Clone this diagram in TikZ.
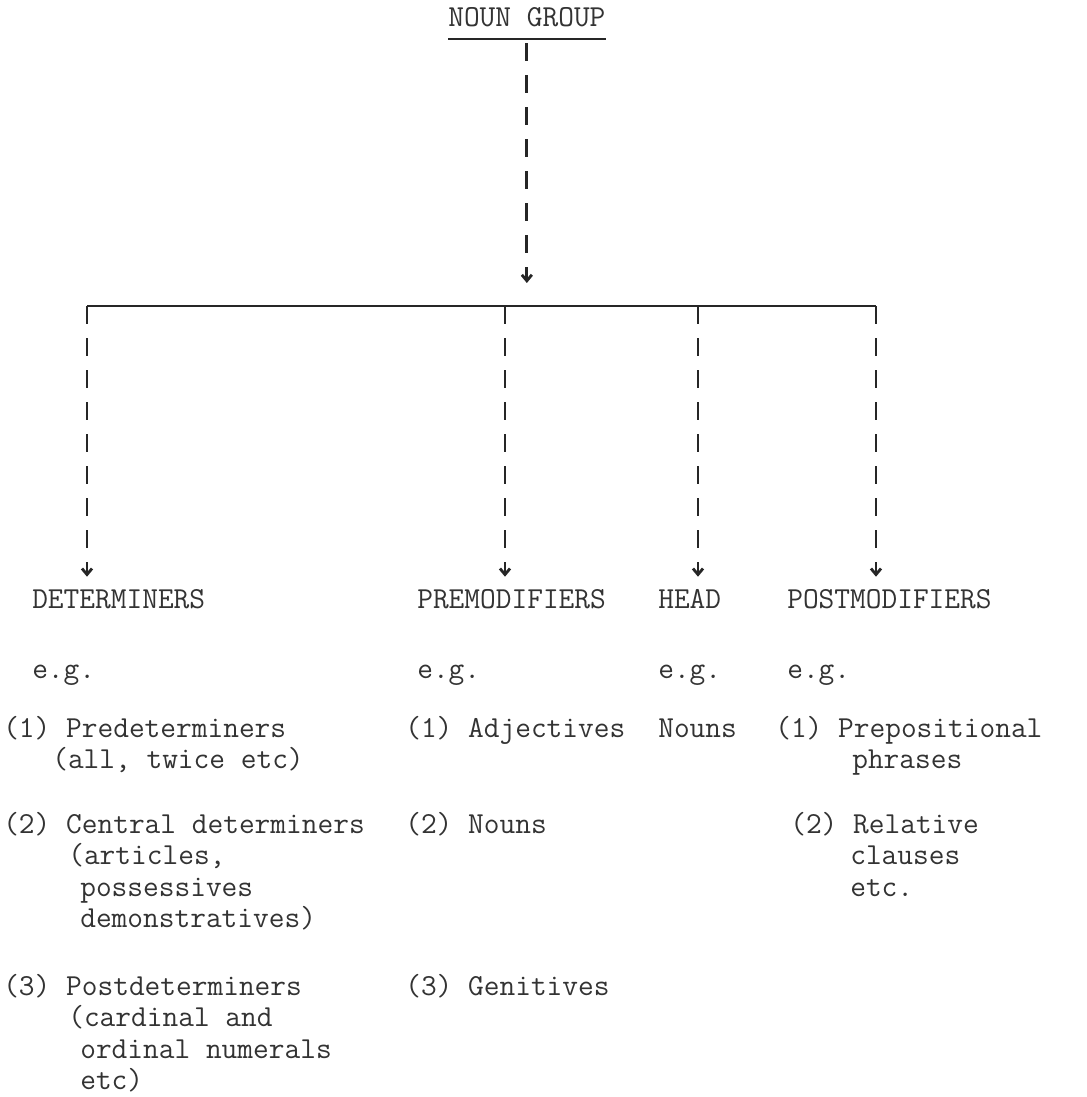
\documentclass[tikz,border=0pt]{standalone}
\usepackage{tikz}
\usetikzlibrary{positioning,arrows.meta}
\newcommand{\typefont}{\fontsize{21.7pt}{22.4pt}\selectfont\ttfamily}
\newcommand{\topstrut}{\rule{0pt}{0.8cm}}
\tikzset{
	heading/.style={inner sep=0pt, font=\typefont, text=black!80, 
		text depth=0.3cm, anchor=base west},
	category/.style={inner sep=0pt, font=\typefont, text=black!80, 
		text height=0.775cm, anchor=base west},
	example/.style={inner sep=0pt, font=\typefont, text=black!80},
	itemlist/.style={inner sep=0pt, font=\typefont, text=black!80, 
		align=left, anchor=north west},
	connector/.style={draw=black!85, line width=2pt, 
		dash pattern=on 0.45cm off 0.35cm, 
		-{Straight Barb[length=0.15cm,width=0.25cm]}},
	bar/.style={draw=black!85, line width=1.3pt}
}

\begin{document}
\begin{tikzpicture}[x=0.025cm, y=-0.025cm]
			\useasboundingbox (0,0) rectangle (1086,1097);
			\node[heading] (ng) at (448,27) {NOUN GROUP};
			\draw[bar] (ng.south west) -- (ng.south east);
			
			% the bar that splits the group
			\coordinate (barL) at (87,306);
			\coordinate (barR) at (876,306);
			\coordinate (bPre) at (505,306);
			\coordinate (bHead) at (698,306);
			\draw[bar] (barL) -- (barR);
			\draw[connector, shorten <=0.1cm, shorten >=0.575cm] (ng.south) -- (ng.south |- barL);
			
			\node[category] (det) at (32,608) {DETERMINERS};
			\node[category] (pre) at (417,608) {PREMODIFIERS};
			\node[category] (head) at (658,608) {HEAD};
			\node[category] (post) at (787,608) {POSTMODIFIERS};
			
			\draw[connector] (barL) -- (barL |- det.north);
			\draw[connector] (bPre) -- (bPre |- pre.north);
			\draw[connector] (bHead) -- (bHead |- head.north);
			\draw[connector] (barR) -- (barR |- post.north);
			
			\node[example, below=1.75cm of det.base west, anchor=base west] (egdet) {e.g.};
			\node[example, below=1.75cm of pre.base west, anchor=base west] (egpre) {e.g.};
			\node[example, below=1.75cm of head.base west, anchor=base west] (eghead) {e.g.};
			\node[example, below=1.75cm of post.base west, anchor=base west] (egpost) {e.g.};
			
			% lists (top of each node is one line above the first baseline)
			\node[itemlist] (det1) at (3,705) {\topstrut(1) Predeterminers\\\hspace*{1.225cm}(all, twice etc)};
			\node[itemlist] (det2) at (3,801) {\topstrut(2) Central determiners\\\hspace*{1.625cm}(articles,\\\hspace*{1.925cm}possessives\\\hspace*{1.925cm}demonstratives)};
			\node[itemlist] (det3) at (3,963) {\topstrut(3) Postdeterminers\\\hspace*{1.625cm}(cardinal and\\\hspace*{1.925cm}ordinal numerals\\\hspace*{1.925cm}etc)};
			
			\node[itemlist] (pre1) at (405,705) {\topstrut(1) Adjectives};
			\node[itemlist] (pre2) at (405,801) {\topstrut(2) Nouns};
			\node[itemlist] (pre3) at (405,963) {\topstrut(3) Genitives};
			
			\node[itemlist] (head1) at (658,705) {\topstrut Nouns};
			
			\node[itemlist] (post1) at (775,705) {\topstrut(1) Prepositional\\\hspace*{1.925cm}phrases};
			\node[itemlist] (post2) at (790,801) {\topstrut(2) Relative\\\hspace*{1.5cm}clauses\\\hspace*{1.5cm}etc.};
		\end{tikzpicture}
\end{document}
